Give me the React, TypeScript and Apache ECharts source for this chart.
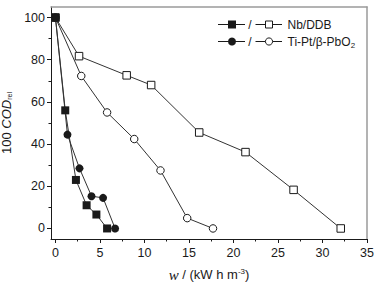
import React, { useEffect, useRef } from "react";
import * as echarts from "echarts";

const nbFilledX = [0, 1.1, 2.3, 3.5, 4.6, 5.8];
const nbFilledY = [100, 56, 23, 11, 6.6, 0];
const ptFilledX = [0, 1.35, 2.7, 4.05, 5.35, 6.7];
const ptFilledY = [100, 44.5, 28.5, 15.3, 14.5, 0];
const nbOpenX = [0, 2.65, 8.0, 10.75, 16.15, 21.35, 26.75, 32.05];
const nbOpenY = [100, 81.7, 72.6, 68, 45.5, 36.2, 18.3, 0];
const ptOpenX = [0, 2.9, 5.8, 8.85, 11.8, 14.8, 17.7];
const ptOpenY = [100, 72.3, 55, 42.4, 27.5, 4.9, 0];

const xTicks = [0, 5, 10, 15, 20, 25, 30, 35];
const xMinorTicks = [2.5, 7.5, 12.5, 17.5, 22.5, 27.5, 32.5];
const yTicks = [0, 20, 40, 60, 80, 100];
const yMinorTicks = [10, 30, 50, 70, 90];

const legendNames = ["Nb/DDB", "Ti-Pt/β-PbO{sub|2}"];

const zip = (xs: number[], ys: number[]) => xs.map((x, i) => [x, ys[i]]);

const FONT = "Liberation Sans, Arial, sans-serif";
const INK = "#1a1a1a";
const LINE = "#333";
const FRAME = "#9a9a9a";

export default function App() {
  const ref = useRef<HTMLDivElement>(null);
  useEffect(() => {
    document.body.style.margin = "0";
    const chart = echarts.init(ref.current!, null, { renderer: "svg" });
    const lineSeries = (name: string, data: number[][], symbol: string, filled: boolean) => ({
      name,
      type: "line",
      data,
      symbol,
      symbolSize: filled ? 8 : 7.5,
      showSymbol: true,
      lineStyle: { color: LINE, width: 1 },
      itemStyle: filled
        ? { color: INK, borderColor: INK, borderWidth: 0 }
        : { color: "#fff", borderColor: INK, borderWidth: 1 },
      z: filled ? 4 : 3,
    });
    const legendRow = (y: number, symbol: "rect" | "circle", label: string) => {
      const els: any[] = [
        { type: "line", shape: { x1: 218, y1: y, x2: 245, y2: y }, style: { stroke: INK, lineWidth: 1 } },
        symbol === "rect"
          ? { type: "rect", shape: { x: 228, y: y - 4, width: 8, height: 8 }, style: { fill: INK } }
          : { type: "circle", shape: { cx: 232, cy: y, r: 4 }, style: { fill: INK } },
        { type: "text", x: 250, y, style: { text: "/", font: `12px ${FONT}`, fill: INK, align: "center", verticalAlign: "middle" } },
        { type: "line", shape: { x1: 255.5, y1: y, x2: 282, y2: y }, style: { stroke: INK, lineWidth: 1 } },
        symbol === "rect"
          ? { type: "rect", shape: { x: 265.5, y: y - 3.5, width: 7, height: 7 }, style: { fill: "#fff", stroke: INK, lineWidth: 1 } }
          : { type: "circle", shape: { cx: 269, cy: y, r: 3.6 }, style: { fill: "#fff", stroke: INK, lineWidth: 1 } },
        {
          type: "text",
          x: 287.5,
          y,
          style: {
            text: label,
            font: `12px ${FONT}`,
            fill: INK,
            verticalAlign: "middle",
            rich: { sub: { fontSize: 8, fontFamily: FONT, padding: [7, 0, 0, 0], fill: INK } },
          },
        },
      ];
      return els;
    };
    chart.setOption({
      animation: false,
      backgroundColor: "#fff",
      grid: { left: 51, right: 12, top: 7, bottom: 46, outerBoundsMode: "none", containLabel: false },
      xAxis: [
        {
          type: "value",
          min: -0.5,
          max: 35,
          position: "bottom",
          splitLine: { show: false },
          axisLine: { show: true, onZero: false, lineStyle: { color: INK, width: 1 } },
          axisTick: { show: true, inside: false, length: 4, customValues: xTicks, lineStyle: { color: INK } },
          axisLabel: { customValues: xTicks, margin: 7, fontSize: 12.5, fontFamily: FONT, color: INK },
          name: "{i|w} / (kW h m{sup|-3})",
          nameLocation: "middle",
          nameGap: 28,
          nameTextStyle: {
            fontSize: 13,
            fontFamily: FONT,
            color: INK,
            rich: {
              i: { fontFamily: "Liberation Serif, Times New Roman, serif", fontStyle: "italic", fontSize: 15, color: INK },
              sup: { fontSize: 8, fontFamily: FONT, color: INK, padding: [0, 0, 7, 0] },
            },
          },
        },
        {
          type: "value",
          min: -0.5,
          max: 35,
          position: "bottom",
          splitLine: { show: false },
          axisLine: { show: false, onZero: false },
          axisTick: { show: true, inside: false, length: 2.5, customValues: xMinorTicks, lineStyle: { color: INK } },
          axisLabel: { show: false },
        },
        {
          type: "value",
          min: -0.5,
          max: 35,
          position: "top",
          splitLine: { show: false },
          axisLine: { show: true, onZero: false, lineStyle: { color: FRAME, width: 1.5 } },
          axisTick: { show: false },
          axisLabel: { show: false },
        },
      ],
      yAxis: [
        {
          type: "value",
          min: -5,
          max: 105,
          position: "left",
          splitLine: { show: false },
          axisLine: { show: true, onZero: false, lineStyle: { color: INK, width: 1 } },
          axisTick: { show: true, inside: false, length: 4, customValues: yTicks, lineStyle: { color: INK } },
          axisLabel: { customValues: yTicks, margin: 6, fontSize: 12.5, fontFamily: FONT, color: INK },
          name: "100 {i|COD}{sub|rel}",
          nameLocation: "middle",
          nameRotate: 90,
          nameGap: 34,
          nameTextStyle: {
            fontSize: 13,
            fontFamily: FONT,
            color: INK,
            rich: {
              i: { fontFamily: FONT, fontStyle: "italic", fontSize: 13, color: INK },
              sub: { fontSize: 7, fontFamily: FONT, color: INK, padding: [7, 0, 0, 0] },
            },
          },
        },
        {
          type: "value",
          min: -5,
          max: 105,
          position: "left",
          splitLine: { show: false },
          axisLine: { show: false, onZero: false },
          axisTick: { show: true, inside: false, length: 2.5, customValues: yMinorTicks, lineStyle: { color: INK } },
          axisLabel: { show: false },
        },
        {
          type: "value",
          min: -5,
          max: 105,
          position: "right",
          splitLine: { show: false },
          axisLine: { show: true, onZero: false, lineStyle: { color: FRAME, width: 1.5 } },
          axisTick: { show: false },
          axisLabel: { show: false },
        },
      ],
      series: [
        lineSeries("Nb/DDB open", zip(nbOpenX, nbOpenY), "rect", false),
        lineSeries("Ti-Pt/β-PbO2 open", zip(ptOpenX, ptOpenY), "circle", false),
        lineSeries("Nb/DDB filled", zip(nbFilledX, nbFilledY), "rect", true),
        lineSeries("Ti-Pt/β-PbO2 filled", zip(ptFilledX, ptFilledY), "circle", true),
      ],
      graphic: [...legendRow(24.5, "rect", legendNames[0]), ...legendRow(41.5, "circle", legendNames[1])],
    });
    return () => chart.dispose();
  }, []);
  return <div ref={ref} style={{ width: 379, height: 285 }} />;
}
